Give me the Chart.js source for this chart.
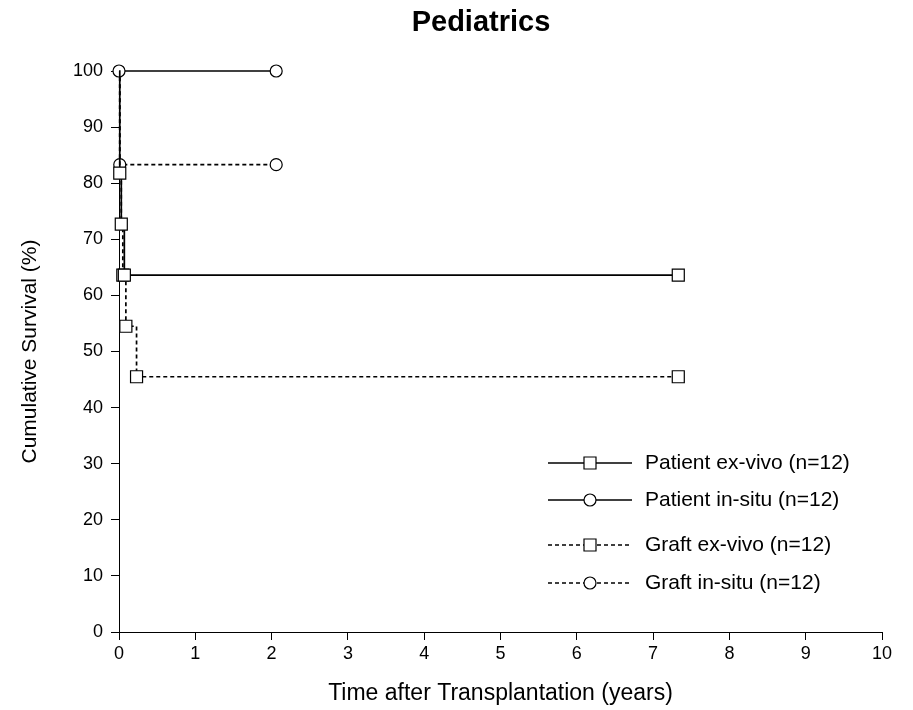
<!DOCTYPE html>
<html>
<head>
<meta charset="utf-8">
<script src="https://cdn.jsdelivr.net/npm/chart.js@4/dist/chart.umd.min.js"></script>
<style>
html,body{margin:0;padding:0;background:#fff;}
canvas{display:block;}
</style>
</head>
<body>
<canvas id="c" width="913" height="710"></canvas>
<script>
// ---- data ----
const chartTitle = "Pediatrics";
const xTitle = "Time after Transplantation (years)";
const yTitle = "Cumulative Survival (%)";
const xTicks = [0, 1, 2, 3, 4, 5, 6, 7, 8, 9, 10];
const yTicks = [0, 10, 20, 30, 40, 50, 60, 70, 80, 90, 100];

const seriesLabels = ["Patient ex-vivo (n=12)", "Patient in-situ (n=12)", "Graft ex-vivo (n=12)", "Graft in-situ (n=12)"];

const timePatientExVivo = [0, 0.01, 0.03, 0.07, 7.33];
const survPatientExVivo = [100, 81.8, 72.7, 63.6, 63.6];
const markPatientExVivo = [false, true, true, true, true];

const timePatientInSitu = [0, 2.06];
const survPatientInSitu = [100, 100];
const markPatientInSitu = [true, true];

const timeGraftExVivo = [0, 0.01, 0.03, 0.05, 0.09, 0.23, 7.33];
const survGraftExVivo = [100, 81.8, 72.7, 63.6, 54.5, 45.5, 45.5];
const markGraftExVivo = [false, false, false, true, true, true, true];

const timeGraftInSitu = [0, 0.01, 2.06];
const survGraftInSitu = [100, 83.3, 83.3];
const markGraftInSitu = [false, true, true];

// ---- chart ----
const FONT = "'Liberation Sans', Arial, Helvetica, sans-serif";
function pts(t, s) { return t.map((x, i) => ({ x: x, y: s[i] })); }

function ds(label, t, s, marks, style, dashed) {
  const r = style === 'rect' ? 8.5 : 6;
  return {
    label: label,
    data: pts(t, s),
    showLine: true,
    stepped: true,
    clip: false,
    borderColor: '#000',
    borderWidth: 1.7,
    borderDash: dashed ? [4, 3] : [],
    pointStyle: style,
    pointRadius: marks.map(m => m ? r : 0),
    pointHoverRadius: marks.map(m => m ? r : 0),
    pointBackgroundColor: '#fff',
    pointBorderColor: '#000',
    pointBorderWidth: 1.2,
    fill: false
  };
}

const datasets = [
  ds(seriesLabels[0], timePatientExVivo, survPatientExVivo, markPatientExVivo, 'rect', false),
  ds(seriesLabels[1], timePatientInSitu, survPatientInSitu, markPatientInSitu, 'circle', false),
  ds(seriesLabels[2], timeGraftExVivo, survGraftExVivo, markGraftExVivo, 'rect', true),
  ds(seriesLabels[3], timeGraftInSitu, survGraftInSitu, markGraftInSitu, 'circle', true)
];

const legendRowsY = [463, 500, 545, 583];

const decorPlugin = {
  id: 'decor',
  afterDraw(chart) {
    const ctx = chart.ctx;
    ctx.save();
    // title
    ctx.fillStyle = '#000';
    ctx.font = "bold 29px " + FONT;
    ctx.textAlign = 'center';
    ctx.textBaseline = 'middle';
    ctx.fillText(chartTitle, 481, 23);
    // legend
    ctx.font = "21px " + FONT;
    ctx.textAlign = 'left';
    chart.data.datasets.forEach((d, i) => {
      const y = legendRowsY[i];
      ctx.strokeStyle = '#000';
      ctx.lineWidth = 1.5;
      ctx.setLineDash(d.borderDash);
      ctx.beginPath();
      ctx.moveTo(548, y);
      ctx.lineTo(632, y);
      ctx.stroke();
      ctx.setLineDash([]);
      ctx.fillStyle = '#fff';
      ctx.lineWidth = 1.2;
      ctx.beginPath();
      if (d.pointStyle === 'rect') {
        ctx.rect(584, y - 6, 12, 12);
      } else {
        ctx.arc(590, y, 6, 0, Math.PI * 2);
      }
      ctx.fill();
      ctx.stroke();
      ctx.fillStyle = '#000';
      ctx.fillText(d.label, 645, y);
    });
    ctx.restore();
  }
};

new Chart(document.getElementById('c'), {
  type: 'scatter',
  data: { datasets: datasets },
  plugins: [decorPlugin],
  options: {
    responsive: false,
    animation: false,
    devicePixelRatio: 1,
    layout: { padding: { top: 71, right: 31, bottom: 0, left: 0 } },
    plugins: { legend: { display: false }, tooltip: { enabled: false }, title: { display: false } },
    scales: {
      x: {
        type: 'linear', min: 0, max: 10,
        afterFit(scale) { scale.height = 78; },
        afterBuildTicks(scale) { scale.ticks = xTicks.map(v => ({ value: v })); },
        ticks: { color: '#000', font: { family: FONT, size: 18 }, padding: 3 },
        grid: { drawOnChartArea: false, tickLength: 8, tickColor: '#000', tickWidth: 1 },
        border: { color: '#000', width: 1 },
        title: { display: true, text: xTitle, color: '#000', font: { family: FONT, size: 23 }, padding: { top: 0, bottom: 3 } }
      },
      y: {
        type: 'linear', min: 0, max: 100,
        afterFit(scale) { scale.width = 119; },
        afterBuildTicks(scale) { scale.ticks = yTicks.map(v => ({ value: v })); },
        ticks: { color: '#000', font: { family: FONT, size: 18 }, padding: 8 },
        grid: { drawOnChartArea: false, tickLength: 8, tickColor: '#000', tickWidth: 1 },
        border: { color: '#000', width: 1 },
        title: { display: true, text: yTitle, color: '#000', font: { family: FONT, size: 21 }, padding: { top: 18, bottom: 0 } }
      }
    }
  }
});
</script>
</body>
</html>
